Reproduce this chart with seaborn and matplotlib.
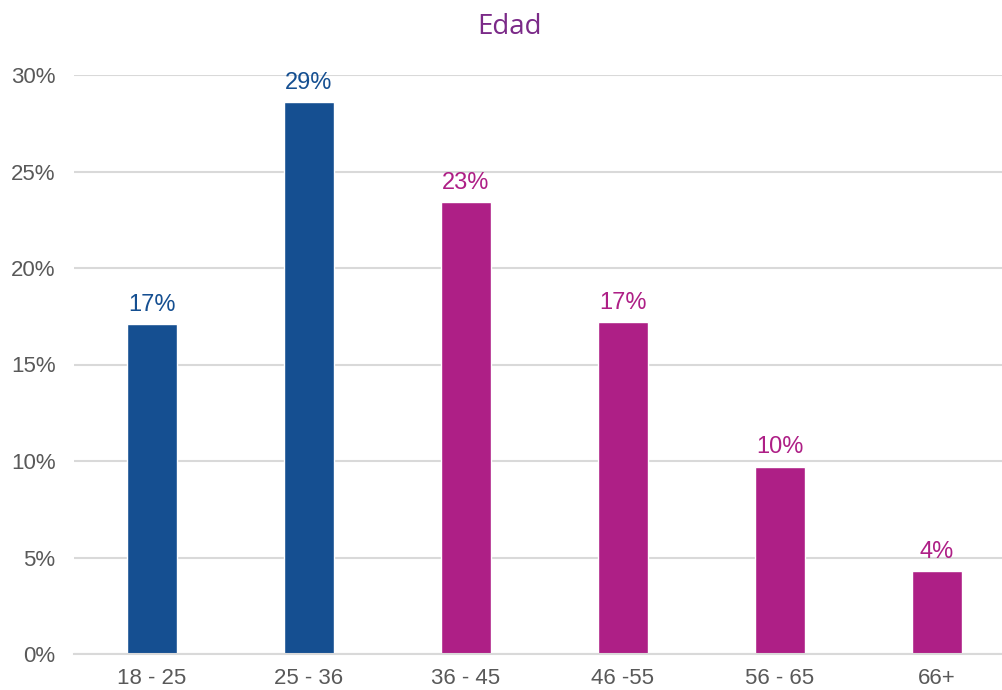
import matplotlib
matplotlib.use("Agg")
import matplotlib.pyplot as plt
import pandas as pd
import seaborn as sns
from matplotlib.ticker import PercentFormatter

GROUPS = ["18 - 25", "25 - 36", "36 - 45", "46 -55", "56 - 65", "66+"]
SHARE = [0.171, 0.286, 0.234, 0.172, 0.097, 0.043]
LABELS = ["17%", "29%", "23%", "17%", "10%", "4%"]
BAR_COLORS = ["#154F91", "#154F91", "#AE1F86", "#AE1F86", "#AE1F86", "#AE1F86"]

sns.set_theme(style="white")
plt.rcParams["font.family"] = ["Liberation Sans", "DejaVu Sans"]

df = pd.DataFrame({"grupo": GROUPS, "share": SHARE})

fig = plt.figure(figsize=(10.02, 6.90), dpi=100)
ax = fig.add_axes([73.5 / 1002, 1 - 654 / 690, 6 * 157 / 1002, (654 - 75) / 690])

sns.barplot(data=df, x="grupo", y="share", hue="grupo", palette=BAR_COLORS,
            legend=False, width=0.32, saturation=1, ax=ax)

for i, (v, lab) in enumerate(zip(SHARE, LABELS)):
    ax.annotate(lab, (i, v), xytext=(0, 6), textcoords="offset points",
                ha="center", va="bottom", fontsize=17, color=BAR_COLORS[i])

ax.set_ylim(0, 0.30)
ax.set_xlim(-0.5, 5.5)
ax.set_yticks([0, 0.05, 0.10, 0.15, 0.20, 0.25, 0.30])
ax.yaxis.set_major_formatter(PercentFormatter(1.0, decimals=0))
ax.yaxis.grid(True, color="#D9D9D9", linewidth=1.5)
ax.set_axisbelow(True)
for s in ["top", "right", "left"]:
    ax.spines[s].set_visible(False)
ax.spines["bottom"].set_color("#D9D9D9")
ax.spines["bottom"].set_linewidth(1.5)
ax.tick_params(axis="both", length=0, labelsize=16, labelcolor="#595959")
ax.tick_params(axis="x", pad=10)
ax.tick_params(axis="y", pad=13)
ax.set_xlabel("")
ax.set_ylabel("")

fig.text(510 / 1002, 1 - 27 / 690, "Edad", ha="center", va="center",
         fontsize=20, color="#7B2A88", family=["Open Sans", "DejaVu Sans"])

fig.savefig("out.png", dpi=100)
